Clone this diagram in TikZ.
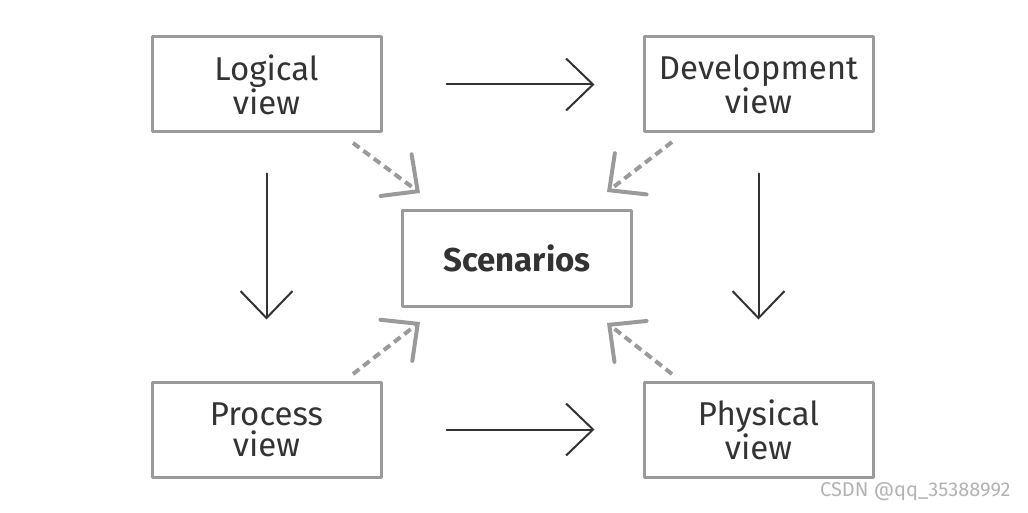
\documentclass[tikz,border=0pt]{standalone}
\usepackage{fontspec}
\setmainfont{Fira Sans}
\usetikzlibrary{arrows.meta}
\definecolor{boxgray}{HTML}{9A9A9A}
\definecolor{inkgray}{HTML}{333333}
\begin{document}
\begin{tikzpicture}[x=1pt, y=-1pt, line join=round, line cap=round,
		view/.style={draw=boxgray, line width=3pt, minimum width=229pt, minimum height=95pt,
			text=inkgray, align=center, font=\fontsize{33}{31}\selectfont, inner sep=0pt},
		main/.style={draw=inkgray, line width=2pt, -{Straight Barb[length=27pt, width=52pt]}},
		hint/.style={draw=boxgray, line width=4pt, line cap=butt, dash pattern=on 8pt off 5pt,
			-{Straight Barb[length=27pt, width=52pt, line cap=round, line width=4pt]}}]
	\useasboundingbox (0,0) rectangle (1028,513);
	% the five views
	\node[view] (logical) at (266.5,84.5) {Logical\\view};
	\node[view] (develop) at (758.5,84.5) {Development\\view};
	\node[view, font=\fontsize{33}{31}\selectfont\bfseries] (scen) at (517,258.5) {Scenarios};
	\node[view] (process) at (266.5,429.5) {Process\\view};
	\node[view] (physical) at (758.5,429.5) {Physical\\view};
	% solid arrows
	\draw[main, shorten <=64pt, shorten >=48pt] (logical.east) -- (develop.west);
	\draw[main, shorten <=64pt, shorten >=48pt] (process.east) -- (physical.west);
	\draw[main, shorten <=40pt, shorten >=61pt] (logical.south) -- (process.north);
	\draw[main, shorten <=40pt, shorten >=61pt] (develop.south) -- (physical.north);
	% dashed arrows into the scenarios
	\coordinate (lg-out) at (353,143);   \coordinate (lg-in) at (420,193);
	\coordinate (dv-out) at (672,142);   \coordinate (dv-in) at (607,192);
	\coordinate (pr-out) at (353,374);   \coordinate (pr-in) at (420,322);
	\coordinate (ph-out) at (672,374);   \coordinate (ph-in) at (607,323);
	\draw[hint] (lg-out) -- (lg-in);
	\draw[hint] (dv-out) -- (dv-in);
	\draw[hint] (pr-out) -- (pr-in);
	\draw[hint] (ph-out) -- (ph-in);
	\node[text=boxgray!75, font=\fontsize{20}{20}\selectfont, anchor=east] (mark) at (1014,492) {CSDN @qq\_35388992};
\end{tikzpicture}
\end{document}
